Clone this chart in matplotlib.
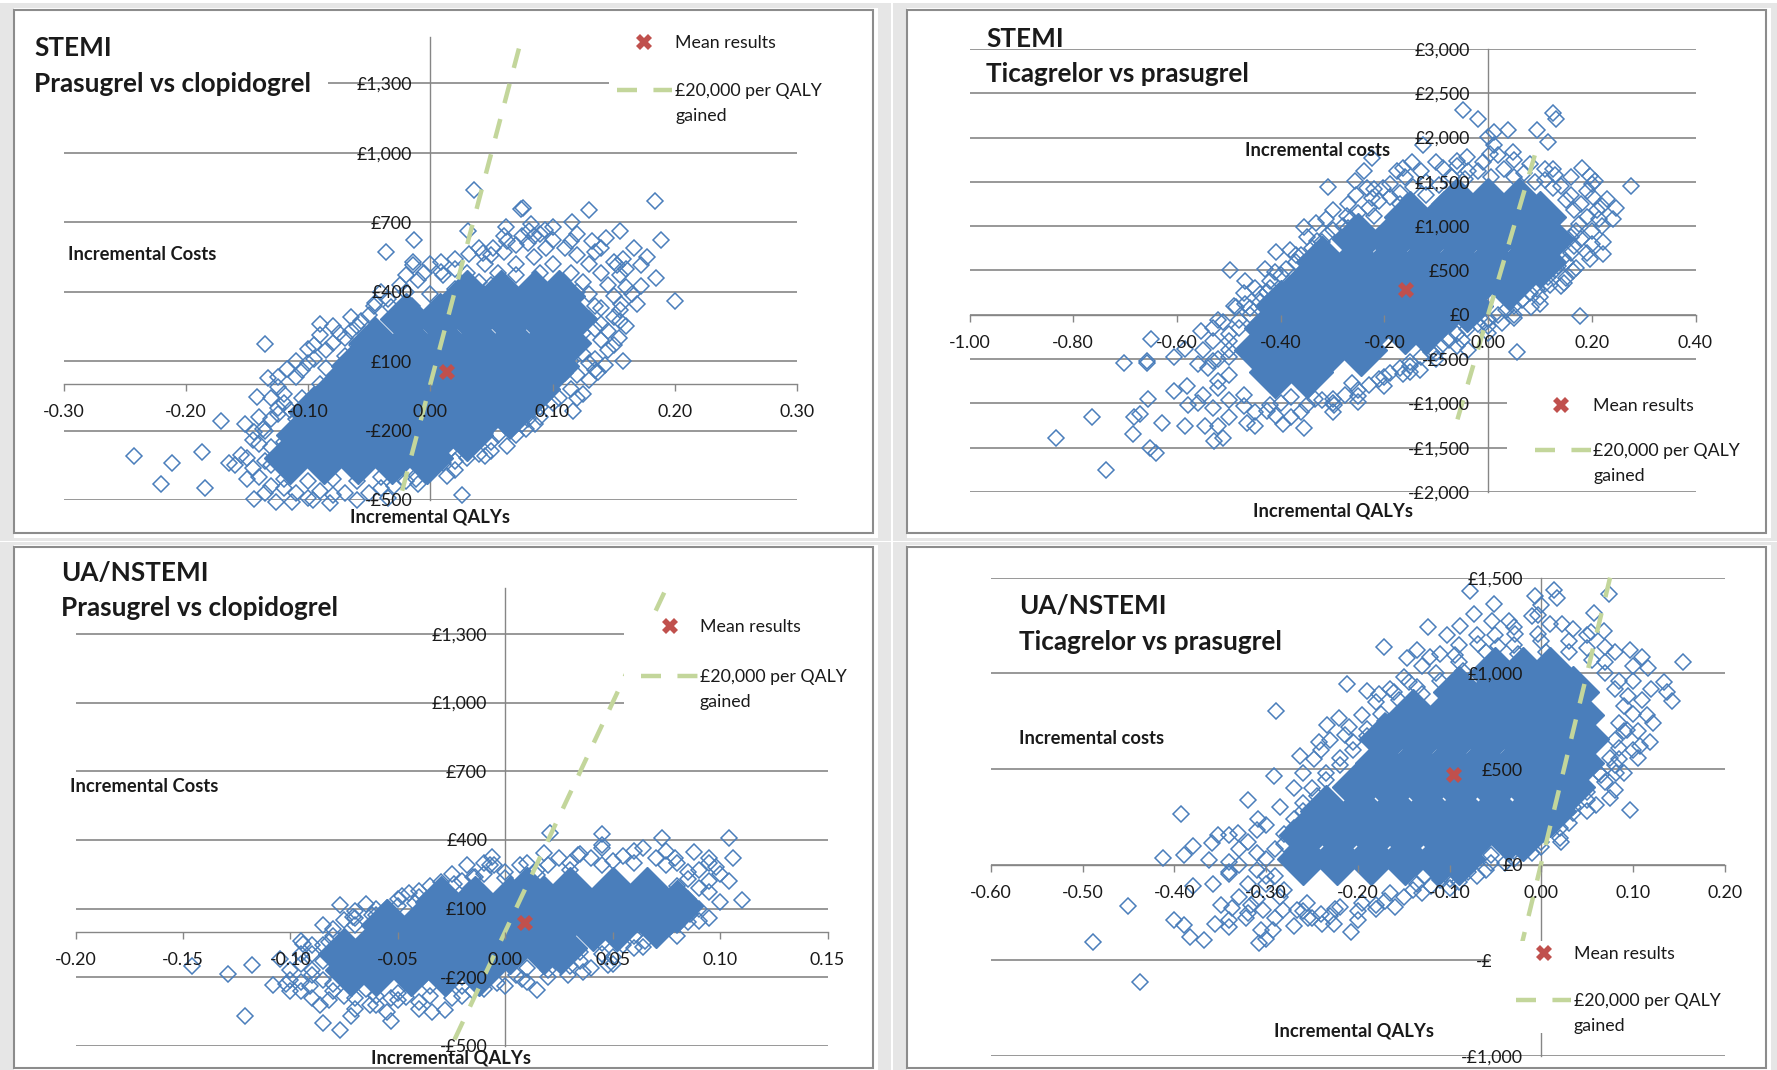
import matplotlib
matplotlib.use("Agg")
from matplotlib import pyplot as plt
from matplotlib.lines import Line2D
from matplotlib.patches import Rectangle
import numpy as np

W, H = 1777, 1070
BLUE = '#4A7EBB'
GREEN = '#C3D69B'
RED = '#C0504D'
GRID = '#868686'

plt.rcParams['font.family'] = ['Lato', 'DejaVu Sans']

# ---- STEMI, prasugrel vs clopidogrel
p1_xticks = [-0.30, -0.20, -0.10, 0.00, 0.10, 0.20, 0.30]
p1_yticks = [-500, -200, 100, 400, 700, 1000, 1300]
p1_ylabels = ['-£500', '-£200', '£100', '£400', '£700', '£1,000', '£1,300']
p1_mean = (0.014, 51)
p1_threshold_x = [0.0725, -0.025]
p1_threshold_y = [1450, -500]
p1_points = [(.036,838),(.184,790),(.074,757),(.076,763),(.13,753),(.116,700),(.082,693),(.081,663),
    (.094,666),(.062,678),(.031,660),(-.013,622),(-.036,573),(-.014,528),(-.014,513),(.189,622),
    (.155,660),(.144,630),(.167,588),(.10,625),(.132,618),(.063,618),(.051,588),(.043,565),(.032,561),
    (.009,528),(.009,483),(.158,543),(.153,513),(.177,550),(.172,513),(.185,460),(.172,423),(.2,360),
    (.169,348),(.156,348),(.155,273),(.154,198),(.158,100),(.143,85),(.137,55),(.117,-117),(.086,-170),
    (.078,-192),(.063,-267),(.045,-312),(.03,-320),(.014,-395),(.026,-480),(-.012,-410),(-.06,-500),
    (-.082,-515),(-.096,-500),(-.113,-507),(-.126,-507),(-.144,-497),(-.15,-410),(-.165,-342),(-.16,-350),
    (-.155,-305),(-.187,-292),(-.211,-339),(-.242,-309),(-.22,-432),(-.184,-447),(-.171,-157),(-.152,-170),
    (-.142,-57),(-.133,25),(-.135,175),(-.117,66),(-.1,153),(-.09,261),(-.09,213),(-.075,220),(-.057,273),
    (-.046,340),(-.032,333),(-.125,-102),(-.137,-192),(-.144,-207),
    (-.12,-40),(-.11,30),(-.105,60),(-.095,110),(-.085,150),(-.07,200),(-.06,250),(-.05,300),(-.035,370),
    (-.02,400),(-.01,450),(.01,470),(.03,480),(.045,520),(.06,570),(.07,600),(.085,640),(.095,590),
    (.11,590),(.12,560),(.13,520),(.14,480),(.145,430),(.15,380),(.14,330),(.15,290),(.135,240),(.14,190),
    (.125,130),(.13,90),(.12,40),(.115,-20),(.105,-60),(.09,-100),(.08,-150),(.065,-200),(.05,-250),
    (.04,-300),(.02,-330),(.0,-380),(-.02,-420),(-.04,-450),(-.07,-470),(-.09,-460),(-.11,-470),
    (-.13,-440),(-.14,-400),(-.135,-330),(-.13,-270),(-.135,-200),(-.125,-130),(-.12,-80)]
p1_fringe = [(-.13,-350),(-.12,-250),(-.11,-150),(-.105,-60),(-.09,0),(-.085,70),(-.07,120),(-.06,170),(-.045,230),
    (-.03,290),(-.015,340),(.0,390),(.02,410),(.04,440),(.055,480),(.07,520),(.085,550),(.1,520),(.115,480),
    (.125,440),(.13,390),(.135,340),(.13,280),(.125,220),(.12,170),(.115,100),(.11,50),(.1,0),(.095,-50),
    (.08,-90),(.07,-130),(.06,-170),(.045,-210),(.035,-250),(.015,-290),(.0,-330),(-.02,-370),(-.04,-400),
    (-.06,-420),(-.08,-410),(-.1,-420),(-.12,-410),(-.125,-10),(-.115,-110),(-.13,-150),(-.14,-260),(-.145,-360),
    (-.12,-450),(-.08,-480),(-.05,-470),(-.03,-440),(.01,-340),(.03,-290),(.055,-220),(.075,-170),(.1,-80),
    (.125,-40),(.13,20),(.135,110),(.145,230),(.155,320),(.16,420),(.155,470),(.15,530),(.135,570),(.115,620),
    (.09,650),(.075,640),(.05,560),(.02,500),(-.005,480),(-.025,430),(-.045,350),(-.065,230),(-.08,180),(-.1,90),
    (.05,430),(.07,470),(.09,480),(.105,450),(.12,400),(.14,260),(.145,150),(.135,60),(.12,-60),(.09,-140),
    (.07,-220),(.05,-290),(.02,-370),(-.01,-430),(-.035,-490),(-.1,-490),(-.135,-470),(-.15,-320),(-.145,-240),
    (-.14,-140),(-.13,-60),(-.125,30),(-.11,100),(-.095,170),(-.08,250),(-.065,290),(-.04,400),(-.02,470),(.0,520),
    (.02,540),(.04,590),(.06,640),(.08,610),(.1,680),(.12,650),(.14,590),(.16,500),(.165,390),(.16,250),(.15,170)]
# where the hollow markers overlap into a solid mass
p1_dense = [(-.115,-320),(-.087,-320),(-.059,-320),(-.031,-320),(-.003,-320),
    (-.105,-220),(-.077,-220),(-.049,-220),(-.021,-220),(.007,-220),(.03,-220),
    (-.095,-120),(-.067,-120),(-.039,-120),(-.011,-120),(.017,-120),(.045,-120),(.065,-120),
    (-.075,-20),(-.047,-20),(-.019,-20),(.009,-20),(.037,-20),(.065,-20),(.085,-20),
    (-.06,80),(-.032,80),(-.004,80),(.024,80),(.052,80),(.08,80),(.1,80),
    (-.045,180),(-.017,180),(.011,180),(.039,180),(.067,180),(.095,180),(.11,180),
    (-.02,280),(.008,280),(.036,280),(.064,280),(.092,280),(.115,280),
    (.03,380),(.058,380),(.086,380),(.105,380)]

# ---- STEMI, ticagrelor vs prasugrel
p2_xticks = [-1.00, -0.80, -0.60, -0.40, -0.20, 0.00, 0.20, 0.40]
p2_yticks = [-2000, -1500, -1000, -500, 0, 500, 1000, 1500, 2000, 2500, 3000]
p2_ylabels = ['-£2,000', '-£1,500', '-£1,000', '-£500', '£0', '£500', '£1,000', '£1,500', '£2,000', '£2,500', '£3,000']
p2_mean = (-0.158, 280)
p2_threshold_x = [0.09, -0.06]
p2_threshold_y = [1800, -1200]
p2_points = [(-.049,2309),(-.019,2205),(.126,2282),(.131,2205),(.038,2088),(.011,2068),(.095,2088),(0,2010),
    (.011,1913),(.115,1952),(-.126,1913),(.049,1835),(.003,1816),(-.224,1769),(-.24,1621),(-.175,1621),
    (-.147,1719),(-.164,1660),(-.087,1660),(-.06,1738),(-.038,1621),(.126,1641),(.182,1660),(.197,1563),
    (.207,1505),(.276,1454),(-.309,1446),(-.257,1505),(-.202,1435),(-.233,1427),(-.254,1357),(-.224,1318),
    (.229,1310),(.246,1201),(.24,1077),(.202,1330),(.213,1077),(.222,824),(.222,688),(.197,630),(.164,494),
    (.147,358),(.12,338),(.082,86),(.177,-19),(.027,-89),(-.005,-89),(.055,-420),(-.038,-400),(-.131,-626),
    (-.164,-665),(-.262,-770),(-.297,-1023),(-.333,-945),(-.355,-1275),(-.396,-1236),(-.409,-1139),
    (-.464,-1225),(-.426,-1081),(-.511,-1392),(-.529,-1419),(-.546,-1256),(-.584,-1256),(-.628,-1217),
    (-.682,-1159),(-.671,-1120),(-.684,-1341),(-.764,-1159),(-.833,-1392),(-.737,-1753),(-.652,-1501),
    (-.641,-1559),(-.655,-945),(-.606,-859),(-.579,-1023),(-.702,-544),(-.658,-517),(-.658,-548),(-.65,-276),
    (-.606,-478),(-.584,-381),(-.553,-187),(-.511,-82),(-.486,86),(-.469,124),(-.469,377),(-.497,502),
    (-.426,260),(-.409,708),(-.382,727),(-.355,991),(-.313,1077),(-.273,1116),(-.331,1038),
    (-.5,-300),(-.48,-150),(-.46,0),(-.44,150),(-.42,300),(-.40,450),(-.37,600),(-.34,750),(-.31,900),
    (-.28,1000),(-.25,1150),(-.21,1280),(-.17,1380),(-.12,1500),(-.07,1550),(-.02,1620),(.03,1650),(.07,1600),
    (.11,1520),(.14,1450),(.16,1350),(.18,1250),(.19,1100),(.17,950),(.18,850),(.16,700),(.15,600),(.13,500),
    (.11,350),(.08,250),(.05,100),(.02,0),(-.02,-100),(-.06,-220),(-.09,-350),(-.13,-480),(-.17,-600),
    (-.21,-720),(-.25,-850),(-.3,-950),(-.35,-1020),(-.4,-1000),(-.45,-1100),(-.5,-1150),(-.53,-1050),
    (-.55,-900),(-.52,-750),(-.54,-600),(-.5,-480),(-.55,-400)]
p2_fringe = [(-.52,-500),(-.5,-400),(-.5,-220),(-.48,-60),(-.46,80),(-.44,230),(-.42,380),(-.39,520),(-.36,680),
    (-.33,830),(-.3,960),(-.265,1080),(-.23,1210),(-.19,1330),(-.145,1440),(-.095,1470),(-.045,1530),(.005,1560),
    (.05,1560),(.09,1500),(.125,1430),(.15,1300),(.165,1180),(.175,1020),(.16,880),(.165,780),(.145,640),(.135,550),
    (.115,430),(.095,290),(.065,170),(.035,50),(.0,-50),(-.04,-160),(-.075,-290),(-.11,-420),(-.15,-530),(-.19,-660),
    (-.23,-790),(-.275,-900),(-.32,-960),(-.38,-930),(-.42,-1020),(-.47,-1030),(-.5,-960),(-.52,-830),(-.5,-680),
    (-.53,-520),(-.47,-900),(-.36,-1100),(-.3,-1100),(-.25,-980),(-.2,-800),(-.15,-650),(-.1,-500),(-.06,-350),
    (.0,-200),(.05,0),(.1,200),(.15,420),(.19,700),(.2,950),(.21,1180),(.19,1400),(.16,1550),(.11,1650),(.05,1750),
    (-.01,1720),(-.06,1680),(-.13,1620),(-.19,1480),(-.27,1250),(-.35,880),(-.43,520),(-.47,250),(-.53,-150),
    (-.12,1350),(-.17,1250),(-.22,1120),(-.27,980),(-.32,820),(-.37,670),(-.41,480),(-.45,300),(-.49,100),(-.52,-60),
    (-.53,-300),(-.56,-550),(-.58,-800),(-.56,-1000),(-.52,-1250),(-.45,-1250),(-.38,-1150),(-.3,-1000),(-.25,-920),
    (-.2,-700),(-.15,-580),(-.1,-430),(-.05,-290),(0,-130),(.05,-40),(.1,120),(.14,320),(.17,530),(.2,800),(.22,1000),
    (.22,1230),(.2,1480),(.13,1580),(.08,1700),(.02,1800),(-.04,1780),(-.1,1720),(-.16,1560),(-.22,1420),(-.3,1180)]
p2_dense = [(-.41,-650),(-.35,-650),
    (-.44,-400),(-.375,-400),(-.31,-400),(-.245,-400),
    (-.42,-150),(-.355,-150),(-.29,-150),(-.225,-150),(-.16,-150),(-.12,-150),
    (-.40,100),(-.335,100),(-.27,100),(-.205,100),(-.14,100),(-.075,100),(-.04,100),
    (-.35,350),(-.285,350),(-.22,350),(-.155,350),(-.09,350),(-.025,350),(.04,350),
    (-.32,600),(-.255,600),(-.19,600),(-.125,600),(-.06,600),(.005,600),(.07,600),(.10,600),
    (-.25,850),(-.185,850),(-.12,850),(-.055,850),(.01,850),(.075,850),(.115,850),
    (-.15,1100),(-.085,1100),(-.02,1100),(.045,1100),(.10,1100),
    (-.06,1250),(.0,1250),(.06,1250)]

# ---- UA/NSTEMI, prasugrel vs clopidogrel
p3_xticks = [-0.20, -0.15, -0.10, -0.05, 0.00, 0.05, 0.10, 0.15]
p3_yticks = [-500, -200, 100, 400, 700, 1000, 1300]
p3_ylabels = ['-£500', '-£200', '£100', '£400', '£700', '£1,000', '£1,300']
p3_mean = (0.009, 37)
p3_threshold_x = [0.074, -0.025]
p3_threshold_y = [1480, -500]
p3_points = [(.021,430),(.045,426),(.045,378),(.045,363),(.073,408),(.104,408),(.106,323),(.064,363),(.095,319),
    (.088,348),(.079,319),(.034,334),(.018,344),(-.006,326),(-.007,289),(-.018,292),(.007,289),(-.014,237),
    (-.024,208),(-.048,156),(-.077,116),(-.055,101),(-.062,74),(-.071,62),(-.032,163),(-.042,126),(.11,138),
    (.104,222),(.098,282),(.095,171),(.09,44),(.086,77),(.077,22),(.064,-67),(.048,-145),(.036,-178),(.029,-190),
    (.015,-255),(.008,-208),(-.004,-225),(-.015,-262),(-.028,-341),(-.034,-353),(-.053,-393),(-.046,-285),
    (-.053,-289),(-.063,-319),(-.072,-371),(-.077,-430),(-.085,-400),(-.086,-323),(-.121,-371),(-.095,-260),
    (-.1,-260),(-.102,-230),(-.108,-233),(-.129,-185),(-.118,-145),(-.146,-151),(-.094,-56),(-.082,-44),
    (-.082,-297),(-.091,-237),(-.077,-59),
    (-.09,-100),(-.085,-60),(-.08,-20),(-.07,30),(-.06,70),(-.05,110),(-.04,150),(-.03,190),(-.02,220),(-.01,250),
    (.0,260),(.015,270),(.03,300),(.04,320),(.055,330),(.07,320),(.08,300),(.09,270),(.085,230),(.09,190),
    (.085,140),(.08,100),(.075,60),(.07,20),(.06,-20),(.055,-60),(.045,-100),(.035,-130),(.02,-170),(.005,-190),
    (-.01,-210),(-.02,-240),(-.035,-280),(-.05,-300),(-.06,-280),(-.07,-290),(-.08,-260),(-.085,-210),(-.09,-170),
    (-.085,-130)]
p3_fringe = [(-.095,-140),(-.09,-60),(-.08,10),(-.07,60),(-.06,100),(-.05,140),(-.04,175),(-.03,215),(-.015,240),
    (.0,235),(.015,245),(.03,270),(.045,290),(.06,300),(.075,290),(.085,260),(.08,200),(.08,150),(.075,110),
    (.07,70),(.065,30),(.055,-10),(.045,-50),(.035,-90),(.025,-130),(.01,-160),(-.005,-170),(-.02,-200),
    (-.035,-240),(-.05,-270),(-.065,-250),(-.08,-230),(-.09,-190),(-.095,-100),(-.075,-280),(-.06,-320),
    (-.04,-310),(-.025,-290),(-.01,-250),(.01,-220),(.03,-150),(.05,-110),(.065,-40),(.08,30),(.09,100),
    (.095,220),(-.095,-220),(-.07,90),(-.035,200),(-.005,290),(.025,320),(.05,310),
    (-.1,-170),(-.105,-120),(-.095,-40),(-.085,30),(-.075,50),(-.065,120),(-.045,170),(-.025,250),(-.01,300),
    (.01,300),(.02,290),(.035,340),(.06,350),(.075,350),(.095,300),(.1,250),(.1,130),(.095,60),(.085,40),(.08,-20),
    (.07,-30),(.06,-70),(.05,-140),(.04,-160),(.02,-200),(.0,-240),(-.02,-280),(-.04,-340),(-.055,-350),(-.07,-340),
    (-.09,-290),(-.1,-210)]
p3_dense = [(-.072,-170),(-.06,-170),(-.044,-170),(-.028,-170),(-.012,-170),
    (-.075,-100),(-.062,-70),(-.046,-70),(-.03,-70),(-.014,-70),(.002,-70),(.018,-70),(.026,-70),
    (-.055,30),(-.039,30),(-.023,30),(-.007,30),(.009,30),(.025,30),(.041,30),(.052,30),(.07,40),
    (-.03,130),(-.014,130),(.002,130),(.018,130),(.034,130),(.05,130),(.066,130),(.08,110),
    (.01,170),(.03,170),(.05,170),(.066,170)]

# ---- UA/NSTEMI, ticagrelor vs prasugrel
p4_xticks = [-0.60, -0.50, -0.40, -0.30, -0.20, -0.10, 0.00, 0.10, 0.20]
p4_yticks = [-1000, -500, 0, 500, 1000, 1500]
p4_ylabels = ['-£1,000', '-£500', '£0', '£500', '£1,000', '£1,500']
p4_mean = (-0.095, 471)
p4_threshold_x = [0.075, -0.021]
p4_threshold_y = [1500, -410]
p4_points = [(-.078,1432),(-.052,1360),(-.007,1402),(.014,1437),(.017,1393),(0,1357),(-.004,1303),(.074,1414),
    (.057,1316),(.068,1223),(-.073,1312),(-.054,1276),(-.035,1276),(-.124,1240),(-.089,1249),(-.103,1201),
    (-.069,1156),(-.029,1205),(-.004,1205),(.023,1258),(.054,1214),(-.172,1137),(-.146,1079),(-.135,1124),
    (-.121,1088),(-.094,1097),(-.047,1142),(.097,1124),(.11,1088),(.154,1061),(.116,1026),(.134,954),(.142,856),
    (.137,900),(-.212,945),(-.19,909),(-.177,891),(-.161,900),(-.144,954),(-.289,802),(-.221,766),(-.234,730),
    (-.214,677),(-.263,569),(-.242,641),(-.248,551),(-.291,462),(-.32,340),(-.393,265),(-.309,238),(.122,739),
    (.119,641),(.108,619),(.094,703),(.085,551),(.081,480),(.063,480),(.097,286),(.039,354),(.022,118),(-.025,113),
    (-.014,175),(-.083,-21),(-.1,-75),(-.066,95),(-.128,-57),(-.18,-209),(-.208,-353),(-.226,-308),(-.239,-308),
    (-.254,-281),(-.266,-236),(-.293,-344),(-.3,-388),(-.308,-410),(-.306,-344),(-.34,-326),(-.341,-290),
    (-.356,-308),(-.368,-394),(-.383,-376),(-.39,-317),(-.4,-290),(-.451,-215),(-.489,-406),(-.437,-612),
    (-.412,36),(-.39,50),(-.38,100),(-.359,113),(-.353,154),(-.34,154),(-.331,166),(-.362,23),(-.341,14),(-.34,-39),
    (-.38,-111),(-.358,-102),(-.349,-209),(-.337,-227),(-.322,-281),(-.316,-209),(-.303,-236),(-.282,-236),
    (-.3,30),(-.31,-30),(-.29,80),(-.28,160),(-.27,240),(-.26,320),(-.25,400),(-.235,480),(-.22,560),(-.205,640),
    (-.19,710),(-.175,790),(-.155,860),(-.135,930),(-.115,1000),(-.09,1060),(-.06,1110),(-.03,1150),(0,1170),
    (.03,1170),(.05,1130),(.07,1060),(.085,960),(.095,880),(.1,790),(.09,700),(.085,610),(.08,520),(.07,430),
    (.05,340),(.035,270),(.02,190),(0,120),(-.03,70),(-.055,10),(-.08,-40),(-.11,-80),(-.14,-130),(-.17,-190),
    (-.2,-240),(-.23,-270),(-.26,-240),(-.285,-170),(-.3,-100)]
p4_fringe = [(-.31,60),(-.3,-60),(-.28,110),(-.27,190),(-.26,280),(-.245,360),(-.235,440),(-.22,520),(-.205,600),
    (-.19,670),(-.17,750),(-.15,820),(-.13,890),(-.11,960),(-.085,1010),(-.055,1060),(-.025,1100),(.005,1110),
    (.03,1110),(.055,1070),(.07,1000),(.08,920),(.09,830),(.085,740),(.08,650),(.075,560),(.065,470),(.05,380),
    (.035,300),(.015,220),(-.005,160),(-.03,100),(-.055,50),(-.08,0),(-.105,-50),(-.135,-100),(-.165,-150),
    (-.195,-200),(-.225,-230),(-.255,-200),(-.28,-130),(-.29,-60),(-.25,-280),(-.22,-220),(-.18,-230),(-.15,-170),
    (-.12,-110),(-.09,-90),(-.06,-30),(-.03,30),(.0,90),(.03,220),(.06,310),(.08,390),(.1,600),(.105,700),(.11,860),
    (.1,960),(.08,1110),(.05,1200),(.01,1260),(-.03,1240),(-.07,1200),(-.11,1100),(-.15,980),(-.18,850),(-.21,720),
    (-.24,600),(-.27,400),(-.3,210),(-.32,120),(-.33,0),(-.32,-100),(-.31,-180),
    (-.33,80),(-.34,-50),(-.33,-170),(-.32,-250),(-.29,-280),(-.27,-320),(-.24,-260),(-.2,-290),(-.16,-220),(-.13,-150),
    (-.1,-120),(-.07,-60),(-.04,10),(-.01,60),(.02,140),(.05,280),(.075,350),(.09,480),(.105,560),(.115,780),(.12,920),
    (.1,1040),(.07,1140),(.035,1230),(-.01,1300),(-.05,1200),(-.09,1150),(-.13,1040),(-.165,920),(-.195,780),(-.23,650),
    (-.26,480),(-.285,300),(-.31,180)]
p4_dense = [(-.26,30),(-.223,30),(-.186,30),(-.149,30),(-.112,30),(-.09,30),
    (-.258,155),(-.221,155),(-.184,155),(-.147,155),(-.11,155),(-.073,155),(-.036,155),(-.02,155),
    (-.235,280),(-.198,280),(-.161,280),(-.124,280),(-.087,280),(-.05,280),(-.013,280),(.01,280),
    (-.2,405),(-.163,405),(-.126,405),(-.089,405),(-.052,405),(-.015,405),(.022,405),(.03,405),
    (-.175,530),(-.138,530),(-.101,530),(-.064,530),(-.027,530),(.01,530),(.04,530),
    (-.17,655),(-.133,655),(-.096,655),(-.059,655),(-.022,655),(.015,655),(.045,655),
    (-.14,780),(-.103,780),(-.066,780),(-.029,780),(.008,780),(.04,780),
    (-.09,905),(-.053,905),(-.016,905),(.021,905),(.035,905),
    (-.05,1000),(-.02,1000),(.01,1000)]

fig = plt.figure(figsize=(W/100, H/100), dpi=100, facecolor='#E6E6E6')


def fx(x):
    return x/W


def fy(y):
    return 1 - y/H


def box(x0, y0, x1, y1, zorder, face='white', edge='none', lw=0):
    fig.add_artist(Rectangle((fx(x0), fy(y1)), (x1-x0)/W, (y1-y0)/H, transform=fig.transFigure,
                             facecolor=face, edgecolor=edge, linewidth=lw, zorder=zorder))


def label(x, y, s, size=12.8, weight='normal', ha='left'):
    fig.text(fx(x), fy(y+1), s, fontsize=size, fontweight=weight, ha=ha, va='center', color='#1a1a1a', zorder=12)


# Makes one panel, positions are pixels of the whole picture
def panel(frame, plot_x, plot_y, xticks, yticks, ylabels, ylim, mean, tx, ty, points, fringe, dense):
    box(frame[0], frame[1]-2, frame[2]+5, frame[3]+5, 0.1)
    box(frame[0], frame[1], frame[2], frame[3], 0.2, edge='#8C8C8C', lw=1.5)
    ax = fig.add_axes([fx(plot_x[0]), fy(plot_y[1]), (plot_x[1]-plot_x[0])/W, (plot_y[1]-plot_y[0])/H],
                      facecolor='none', zorder=1)
    ax.set_xlim(xticks[0], xticks[-1])
    ax.set_ylim(*ylim)
    for s in ['top', 'right']:
        ax.spines[s].set_visible(False)
    ax.spines['left'].set_position(('data', 0))
    ax.spines['bottom'].set_position(('data', 0))
    for s in ['left', 'bottom']:
        ax.spines[s].set_color(GRID)
        ax.spines[s].set_linewidth(1.0)
        ax.spines[s].set_zorder(1)
    ax.hlines(yticks, xticks[0], xticks[-1], color=GRID, lw=1.2, zorder=1)
    ax.set_xticks(xticks)
    ax.set_xticklabels(['%.2f' % t for t in xticks])
    ax.set_yticks(yticks)
    ax.set_yticklabels(ylabels)
    ax.tick_params(axis='x', length=5, width=1, color=GRID, pad=9.5, labelsize=12.8, labelcolor='#1a1a1a')
    ax.tick_params(axis='y', length=0, pad=13, labelsize=12.8, labelcolor='#1a1a1a')
    ax.xaxis.set_zorder(5)
    ax.yaxis.set_zorder(5)
    d = np.array(dense)
    ax.plot(d[:, 0], d[:, 1], ls='none', marker='D', ms=26, mfc=BLUE, mec=BLUE, zorder=2, clip_on=False)
    p = np.array(points + fringe)
    ax.plot(p[:, 0], p[:, 1], ls='none', marker='D', ms=8.5, mfc='none', mec=BLUE, mew=1.1, zorder=2.5, clip_on=False)
    ax.plot(tx, ty, color=GREEN, lw=3.2, dashes=(4.5, 3.7), zorder=3, clip_on=False)
    ax.plot([mean[0]], [mean[1]], ls='none', marker='X', ms=12, mfc=RED, mec=RED, mew=0, zorder=4)
    return ax


def legend_key(xm, ym, x0, x1, yl, xt, yg):
    fig.add_artist(Line2D([fx(xm)], [fy(ym)], marker='X', ms=12, mfc=RED, mec=RED, mew=0, ls='none', zorder=11))
    fig.add_artist(Line2D([fx(x0), fx(x1)], [fy(yl), fy(yl)], color=GREEN, lw=3.2, dashes=(4.5, 3.7), zorder=11))
    label(xt, ym, 'Mean results')
    label(xt, yl, '£20,000 per QALY')
    label(xt, yg, 'gained')


# strips seen between the panels
box(0, 0, W, 3, 0.05)
box(891, 0, 893, H, 0.05)
box(0, 541, W, 542, 0.05)

panel((14, 10, 873, 533), (63.6, 797), (37, 500), p1_xticks, p1_yticks, p1_ylabels, (-500, 1500), p1_mean,
      p1_threshold_x, p1_threshold_y, p1_points, p1_fringe, p1_dense)
panel((907, 10, 1766, 533), (969.5, 1695.5), (49, 492), p2_xticks, p2_yticks, p2_ylabels, (-2000, 3000), p2_mean,
      p2_threshold_x, p2_threshold_y, p2_points, p2_fringe, p2_dense)
panel((14, 547, 873, 1068), (75.5, 827.5), (588, 1046), p3_xticks, p3_yticks, p3_ylabels, (-500, 1500), p3_mean,
      p3_threshold_x, p3_threshold_y, p3_points, p3_fringe, p3_dense)
panel((907, 547, 1766, 1068), (991, 1724.7), (577.7, 1056), p4_xticks, p4_yticks, p4_ylabels, (-1000, 1500), p4_mean,
      p4_threshold_x, p4_threshold_y, p4_points, p4_fringe, p4_dense)

# white boxes of the title and the legend, they sit on top of the gridlines
box(20, 25, 328, 130, 10)
box(609, 20, 868, 135, 10)
box(1507, 386, 1760, 488, 10)
box(624, 613, 868, 712, 10)
box(1491, 941, 1760, 1033, 10)

legend_key(644, 42, 617, 672, 90, 675, 115)
legend_key(1561, 405, 1535, 1591, 450, 1593, 475)
legend_key(670, 626, 641, 698, 676, 700, 701)
legend_key(1544, 953, 1516, 1571, 1000, 1574, 1025)

label(34, 47, 'STEMI', 18.8, 'bold')
label(34, 83, 'Prasugrel vs clopidogrel', 18.8, 'bold')
label(986, 38, 'STEMI', 18.8, 'bold')
label(986, 73, 'Ticagrelor vs prasugrel', 18.8, 'bold')
label(61, 572, 'UA/NSTEMI', 18.8, 'bold')
label(61, 607, 'Prasugrel vs clopidogrel', 18.8, 'bold')
label(1019, 605, 'UA/NSTEMI', 18.8, 'bold')
label(1019, 641, 'Ticagrelor vs prasugrel', 18.8, 'bold')

label(68, 253, 'Incremental Costs', 13.2, 'bold')
label(430, 516, 'Incremental QALYs', 13.2, 'bold', 'center')
label(1245, 150, 'Incremental costs', 13.2, 'bold')
label(1333, 510, 'Incremental QALYs', 13.2, 'bold', 'center')
label(70, 786, 'Incremental Costs', 13.2, 'bold')
label(451, 1057, 'Incremental QALYs', 13.2, 'bold', 'center')
label(1019, 737, 'Incremental costs', 13.2, 'bold')
label(1354, 1030, 'Incremental QALYs', 13.2, 'bold', 'center')

fig.savefig('out.png', dpi=100)
